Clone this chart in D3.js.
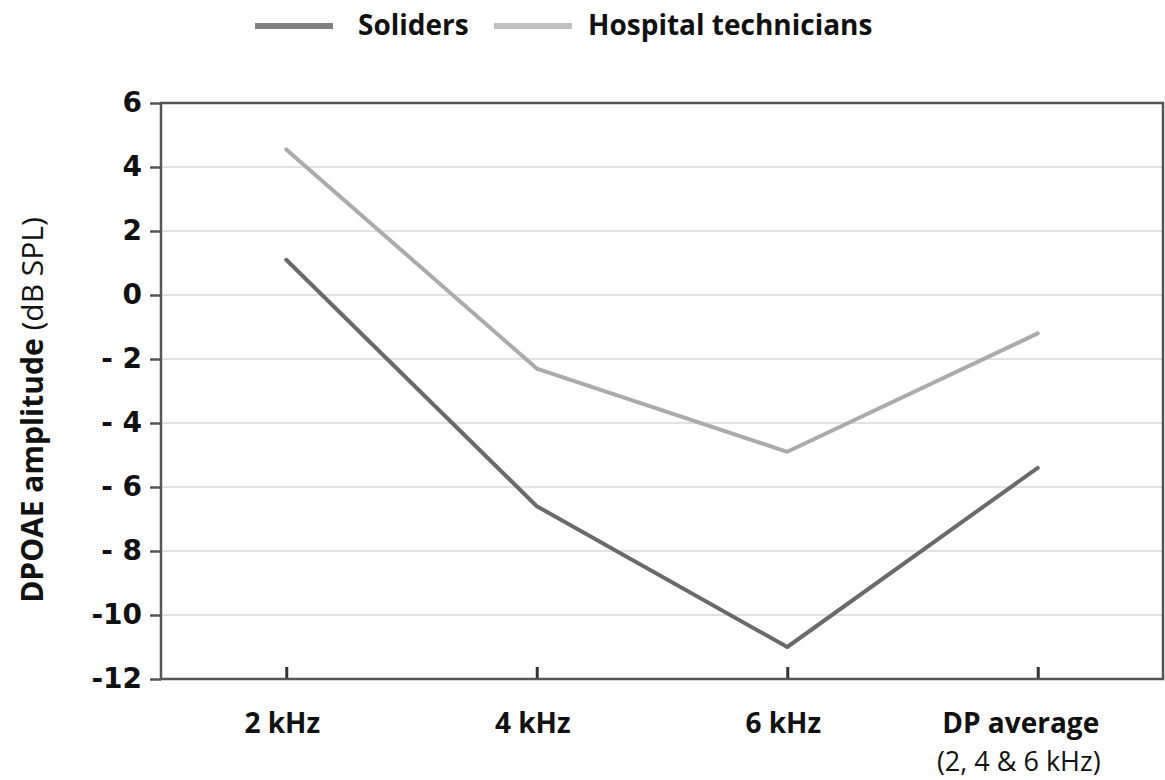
<!DOCTYPE html>
<html>
<head>
<meta charset="utf-8">
<script src="https://cdn.jsdelivr.net/npm/d3@7"></script>
<style>
  body { margin: 0; background: #fff; }
  .grid line { stroke: #e2e2e2; stroke-width: 2px; }
  .frame { fill: none; stroke: #555; stroke-width: 2.5px; }
  .line { fill: none; stroke-width: 4px; stroke-linejoin: round; stroke-linecap: round; }
</style>
</head>
<body>
<script>
// datos
var categories = ["2 kHz", "4 kHz", "6 kHz", "DP average"];
var subLabels = ["", "", "", "(2, 4 & 6 kHz)"];
var soldiers = [1.1, -6.6, -11.0, -5.4];
var hospital = [4.55, -2.3, -4.9, -1.2];
var yTicks = [6, 4, 2, 0, -2, -4, -6, -8, -10, -12];
var yTickLabels = ["6", "4", "2", "0", "- 2", "- 4", "- 6", "- 8", "-10", "-12"];
var seriesNames = ["Soliders", "Hospital technicians"];
var seriesColors = ["#6a6a6a", "#ababab"];
var legendColors = ["#808080", "#c0c0c0"];

var W = 1165, H = 780;
var margin = {top: 103, right: 2, bottom: 101, left: 161},
    width = W - margin.left - margin.right,
    height = H - margin.top - margin.bottom;

var svg = d3.select("body").append("svg")
    .attr("width", W)
    .attr("height", H);

var g = svg.append("g")
    .attr("transform", "translate(" + margin.left + "," + margin.top + ")");

var x = d3.scalePoint().domain(categories).range([0, width]).padding(0.5);
var y = d3.scaleLinear().domain([-12, 6]).range([height, 0]);

// lineas de cuadricula
g.append("g").attr("class", "grid")
  .selectAll("line")
  .data(yTicks.filter(function(d){ return d > -12 && d < 6; }))
  .enter().append("line")
    .attr("x1", 0).attr("x2", width)
    .attr("y1", function(d){ return y(d); })
    .attr("y2", function(d){ return y(d); });

// eje y
var yAxis = g.append("g")
  .call(d3.axisLeft(y).tickValues(yTicks).tickSize(11)
    .tickFormat(function(d, i){ return yTickLabels[i]; }));
yAxis.select(".domain").remove();
yAxis.selectAll(".tick line").attr("stroke", "#555").attr("stroke-width", 2.5);
yAxis.selectAll(".tick text")
  .attr("x", -19)
  .style("font-family", "'DejaVu Sans', Verdana, sans-serif")
  .style("font-weight", "bold")
  .style("font-size", "28px")
  .style("fill", "#111");

// eje x
var xAxis = g.append("g")
  .attr("transform", "translate(0," + height + ")")
  .call(d3.axisBottom(x).tickSize(-12).tickFormat(""));
xAxis.select(".domain").remove();
xAxis.selectAll(".tick line").attr("stroke", "#333").attr("stroke-width", 3);

g.append("g").selectAll("text")
  .data(categories)
  .enter().append("text")
    .attr("x", function(d){ return x(d); })
    .attr("dx", function(d, i){ return i === 3 ? -17 : -4; })
    .attr("y", height + 54)
    .attr("text-anchor", "middle")
    .style("font-family", "'Open Sans', sans-serif")
    .style("font-weight", "bold")
    .style("font-size", "28px")
    .style("fill", "#111")
    .text(function(d){ return d; });

g.append("g").selectAll("text")
  .data(categories)
  .enter().append("text")
    .attr("x", function(d){ return x(d); })
    .attr("dx", -19)
    .attr("y", height + 92)
    .attr("text-anchor", "middle")
    .style("font-family", "'Open Sans', sans-serif")
    .style("font-size", "27px")
    .style("fill", "#111")
    .text(function(d, i){ return subLabels[i]; });

// marco
g.append("rect").attr("class", "frame")
  .attr("x", 0).attr("y", 0)
  .attr("width", width).attr("height", height);

// lineas de datos
var valueline = d3.line()
  .x(function(d, i){ return x(categories[i]); })
  .y(function(d){ return y(d); });

[soldiers, hospital].forEach(function(s, i){
  g.append("path")
    .datum(s)
    .attr("class", "line")
    .attr("stroke", seriesColors[i])
    .attr("d", valueline);
});

// titulo eje y
var yt = svg.append("text")
  .attr("transform", "translate(43,410) rotate(-90)")
  .attr("text-anchor", "middle")
  .style("font-family", "'Open Sans', sans-serif")
  .style("font-size", "30px")
  .style("fill", "#111");
yt.append("tspan").style("font-weight", "bold").text("DPOAE amplitude");
yt.append("tspan").text(" (dB SPL)");

// leyenda
var legendX = [255, 494], legendTextX = [358, 588];
var leg = svg.append("g");
seriesNames.forEach(function(n, i){
  leg.append("rect")
    .attr("x", legendX[i]).attr("y", 23)
    .attr("width", 78).attr("height", 6)
    .attr("fill", legendColors[i]);
  leg.append("text")
    .attr("x", legendTextX[i]).attr("y", 35)
    .style("font-family", "'Open Sans', sans-serif")
    .style("font-weight", "bold")
    .style("font-size", "28px")
    .style("fill", "#111")
    .text(n);
});
</script>
</body>
</html>
